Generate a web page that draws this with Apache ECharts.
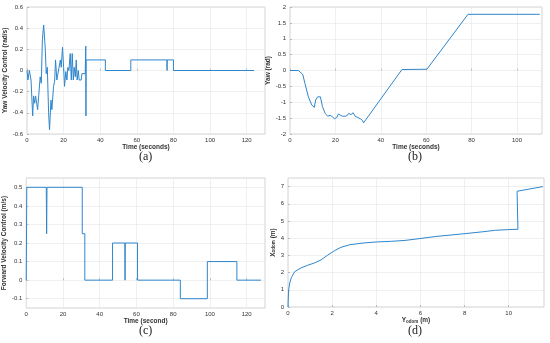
<!DOCTYPE html>
<html>
<head>
<meta charset="utf-8">
<script src="https://cdn.jsdelivr.net/npm/echarts@6/dist/echarts.min.js"></script>
<style>html,body{margin:0;padding:0;background:#fff}#c{width:550px;height:343px}</style>
</head>
<body>
<div id="c"></div>
<script>
// Panel (a): yaw velocity control
var aTime = [0,0.5,1.3,2.2,3.1,3.6,4.2,4.7,5.3,5.8,6.4,7.2,7.8,8.4,9.1,10,10.5,11.1,11.8,12.3,13.1,13.6,14.5,15.1,15.6,16.3,17.2,18.2,18.7,19.4,20,20.5,21.2,21.8,22.3,22.9,23.6,24.2,24.7,25.3,25.8,26.4,26.9,27.4,28,28.5,29.6,30,31.8,32.1,32.2,32.3,42.8,42.8,56.7,56.7,76.4,76.5,76.6,80,80,124];
var aValue = [0,-0.09,0,-0.09,-0.43,-0.24,-0.31,-0.24,-0.31,-0.37,-0.24,-0.06,-0.12,0.29,0.43,0.2,-0.03,0.03,-0.4,-0.56,-0.28,-0.37,-0.15,-0.1,0.1,-0.09,-0.09,0.1,0.03,0.22,0.03,-0.15,-0.01,-0.09,0.03,0,0.16,-0.09,0.16,-0.09,0.03,-0.06,0.1,-0.09,0,-0.09,-0.09,-0.03,-0.03,0.23,-0.43,0.1,0.1,0,0,0.1,0.1,0,0.1,0.1,0,0];
// Panel (b): yaw
var bTime = [0,3.7,4.4,5.6,6.6,8.1,9.6,10.7,11.3,12.2,13.4,14.3,15.5,16.6,17.7,18.7,19.6,20.6,21.3,22.2,23.1,24.3,25.2,25.8,26.9,27.8,28.7,29.9,31,31.6,31.9,32.4,49.3,60.3,78.4,110];
var bValue = [0,0,-0.05,-0.12,-0.41,-0.83,-1.09,-1.16,-0.93,-0.83,-0.83,-1.14,-1.35,-1.44,-1.41,-1.46,-1.52,-1.48,-1.37,-1.41,-1.44,-1.44,-1.42,-1.35,-1.39,-1.33,-1.44,-1.48,-1.52,-1.46,-1.57,-1.65,0.03,0.04,1.77,1.77];
// Panel (c): forward velocity control
var cTime = [0,0.3,10.9,11.1,11.3,30.5,30.5,31.9,31.9,47,47,53.7,53.8,53.9,60.6,60.6,83.9,83.9,98.6,98.6,114.7,114.7,127.8];
var cValue = [0,0.5,0.5,0.25,0.5,0.5,0.25,0.25,0,0,0.2,0.2,0,0.2,0.2,0,0,-0.1,-0.1,0.1,0.1,0,0];
// Panel (d): odometry path
var dY = [0,0.01,0.03,0.08,0.15,0.3,0.6,0.9,1.2,1.5,1.8,2.1,2.4,2.8,3.4,4,4.7,5.3,5.8,6.7,7.9,8.8,9.4,10,10.42,10.38,10.3,11.55];
var dX = [0,0.4,1.0,1.4,1.7,2.05,2.28,2.43,2.56,2.74,3.02,3.27,3.47,3.62,3.72,3.78,3.82,3.87,3.95,4.1,4.25,4.37,4.46,4.5,4.52,6.73,6.75,7.0];
// Tick labels
var aXTicks = [0,20,40,60,80,100,120];
var aYTicks = [-0.6,-0.4,-0.2,0,0.2,0.4,0.6];
var bXTicks = [0,20,40,60,80,100];
var bYTicks = [-2,-1.5,-1,-0.5,0,0.5,1,1.5,2];
var cXTicks = [0,20,40,60,80,100,120];
var cYTicks = [-0.1,0,0.1,0.2,0.3,0.4,0.5];
var dXTicks = [0,2,4,6,8,10];
var dYTicks = [0,1,2,3,4,5,6,7];

function zip(a,b){return a.map(function(v,i){return [v,b[i]];});}

var lineColor = '#2f86cc';
var font = 'Liberation Sans';
function axis(gi, min, max, ticks, name, gap, isY, nameRich){
  var o = {
    type:'value', gridIndex:gi, min:min, max:max,
    axisLine:{show:false},
    axisTick:{show:true, inside:true, length:2, customValues:ticks, lineStyle:{color:'#999',width:0.6}},
    axisLabel:{customValues:ticks, fontSize:6, color:'#333', fontFamily:font, margin:isY?4:3,
      formatter:function(v){return String(Math.round(v*100)/100);}},
    splitLine:{show:true, lineStyle:{color:'#e6e6e6', width:0.6}},
    name:name, nameLocation:'middle', nameGap:gap,
    nameTextStyle:{fontSize:6.5, fontWeight:'bold', color:'#333', fontFamily:font}
  };
  if (nameRich) o.nameTextStyle.rich = nameRich;
  return o;
}
var rich = {
  b:{fontSize:6.5, fontWeight:'bold', color:'#333', fontFamily:font},
  s:{fontSize:4.5, fontWeight:'bold', color:'#333', fontFamily:font, verticalAlign:'bottom', padding:[3,0,0,0]}
};
var gridStyle = {show:true, borderColor:'#c8c8c8', borderWidth:0.8, backgroundColor:'#fff'};
var option = {
  animation:false,
  backgroundColor:'#fff',
  grid:[
    Object.assign({left:27, top:7, width:238, height:127}, gridStyle),
    Object.assign({left:290, top:7, width:252, height:127}, gridStyle),
    Object.assign({left:23, top:178, width:242, height:130}, gridStyle),
    Object.assign({left:288, top:178, width:256, height:129}, gridStyle)
  ],
  xAxis:[
    axis(0,0,130,aXTicks,'Time (seconds)',9,false),
    axis(1,0,111,bXTicks,'Time (seconds)',9,false),
    axis(2,0,130,cXTicks,'Time (second)',9,false),
    axis(3,0,11.6,dXTicks,'{b|Y}{s|odom}{b| (m)}',9,false,rich)
  ],
  yAxis:[
    axis(0,-0.6,0.6,aYTicks,'Yaw Velocity Control (rad/s)',15,true),
    axis(1,-2,2,bYTicks,'Yaw (rad)',10,true),
    axis(2,-0.15,0.55,cYTicks,'Forward Velocity Control (m/s)',13,true),
    axis(3,0,7.5,dYTicks,'{b|X}{s|odom}{b| (m)}',8,true,rich)
  ],
  series:[
    {type:'line', xAxisIndex:0, yAxisIndex:0, data:zip(aTime,aValue)},
    {type:'line', xAxisIndex:1, yAxisIndex:1, data:zip(bTime,bValue)},
    {type:'line', xAxisIndex:2, yAxisIndex:2, data:zip(cTime,cValue)},
    {type:'line', xAxisIndex:3, yAxisIndex:3, data:zip(dY,dX)}
  ].map(function(s){s.showSymbol=false; s.lineStyle={color:lineColor,width:1}; s.itemStyle={color:lineColor}; return s;}),
  graphic:[
    {type:'text', left:139, top:151, style:{text:'(a)', font:'12px "Liberation Serif"', fill:'#222'}},
    {type:'text', left:408, top:151, style:{text:'(b)', font:'12px "Liberation Serif"', fill:'#222'}},
    {type:'text', left:139, top:325, style:{text:'(c)', font:'12px "Liberation Serif"', fill:'#222'}},
    {type:'text', left:408, top:325, style:{text:'(d)', font:'12px "Liberation Serif"', fill:'#222'}}
  ]
};
var chart = echarts.init(document.getElementById('c'), null, {renderer:'canvas'});
chart.setOption(option);
</script>
</body>
</html>
